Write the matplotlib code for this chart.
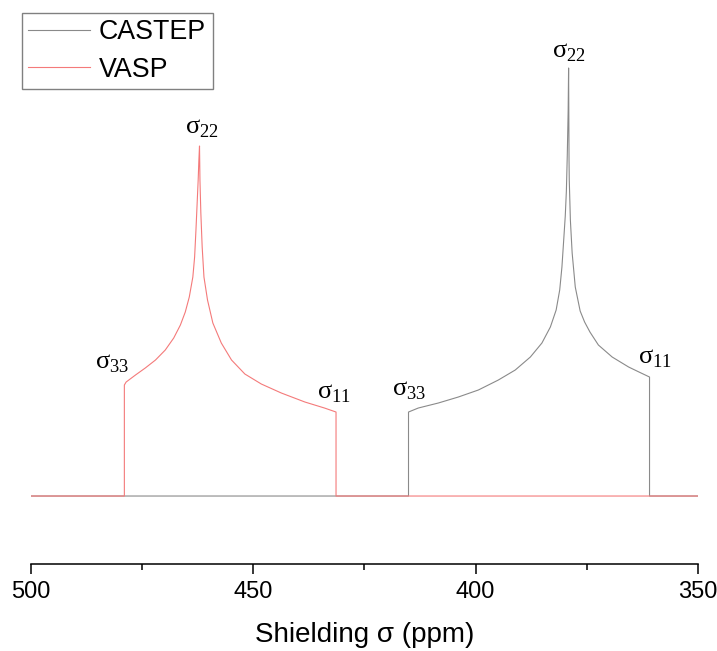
import matplotlib
matplotlib.use("Agg")
import matplotlib.pyplot as plt

plt.rcParams['font.family'] = ['Liberation Sans', 'DejaVu Sans']

# chemical shielding powder patterns, shielding in ppm, intensity in arbitrary units
castep_ppm = [500.0, 415.1, 415.1, 412.9, 408.4, 403.9, 399.4, 394.9, 391.1, 387.7,
              385.1, 383.2, 381.9, 381.1, 380.6, 380.2, 379.85, 379.6, 379.4, 379.2,
              379.1, 379.0, 378.95, 378.7, 378.3, 377.6, 376.5, 375.5, 374.3, 372.4,
              369.3, 365.6, 362.8, 360.9, 360.9, 350.0]
castep_int = [0, 0, 84, 88, 93, 99, 106, 116, 126, 139,
              153, 169, 186, 206, 229, 256, 280, 305, 340, 385,
              428, 336, 316, 276, 243, 209, 185, 174, 164, 151,
              139, 129, 123, 119, 0, 0]

vasp_ppm = [500.0, 479.0, 479.0, 478.6, 476.5, 474.3, 472.0, 469.8, 467.9, 466.4,
            465.3, 464.4, 463.6, 463.2, 462.9, 462.6, 462.4, 462.25, 462.1, 462.0,
            461.8, 461.5, 461.1, 460.3, 459.1, 457.2, 454.9, 451.9, 448.2, 443.7,
            438.4, 434.0, 431.4, 431.4, 350.0]
vasp_int = [0, 0, 111, 114, 121, 128, 136, 146, 158, 171,
            184, 199, 219, 239, 266, 296, 316, 335, 350, 316,
            283, 249, 219, 196, 173, 153, 136, 122, 112, 103,
            94, 88, 84, 0, 0]

# principal component labels: (text, ppm, intensity)
labels = [
    (r'σ$_\mathregular{22}$', 465.4, 363),
    (r'σ$_\mathregular{33}$', 485.6, 128),
    (r'σ$_\mathregular{11}$', 435.7, 98),
    (r'σ$_\mathregular{22}$', 382.8, 439),
    (r'σ$_\mathregular{33}$', 418.8, 101),
    (r'σ$_\mathregular{11}$', 363.4, 133),
]

fig = plt.figure(figsize=(7.17, 6.51), dpi=100)
ax = fig.add_axes([0.0432, 0.1336, 0.9303, 0.8664])

ax.plot(castep_ppm, castep_int, color='#8a8a8a', lw=0.8, label='CASTEP')
ax.plot(vasp_ppm, vasp_int, color='#f47a7a', lw=0.8, label='VASP')

for txt, xx, yy in labels:
    ax.text(xx, yy, txt, ha='left', va='baseline', fontsize=19,
            family=['Liberation Serif', 'DejaVu Serif'])

ax.set_xlim(500, 350)
ax.set_ylim(-68, 496)
ax.set_xticks([500, 450, 400, 350])
ax.set_xticks([475, 425, 375], minor=True)
ax.tick_params(axis='x', which='major', length=7, width=1.1, labelsize=17, pad=5)
ax.tick_params(axis='x', which='minor', length=4, width=1.1)
ax.set_yticks([])
for s in ['left', 'right', 'top']:
    ax.spines[s].set_visible(False)
ax.spines['bottom'].set_linewidth(1.1)
ax.set_xlabel('Shielding σ (ppm)', fontsize=20, labelpad=14)

leg = fig.legend(loc='upper left', bbox_to_anchor=(0.0303, 0.9805), borderaxespad=0,
                 fontsize=19.3, handlelength=2.3, handletextpad=0.33, labelspacing=0.42,
                 borderpad=0.25, fancybox=False, framealpha=1)
leg.get_frame().set_edgecolor('#808080')
leg.get_frame().set_linewidth(1.0)

fig.savefig('out.png', dpi=100)
